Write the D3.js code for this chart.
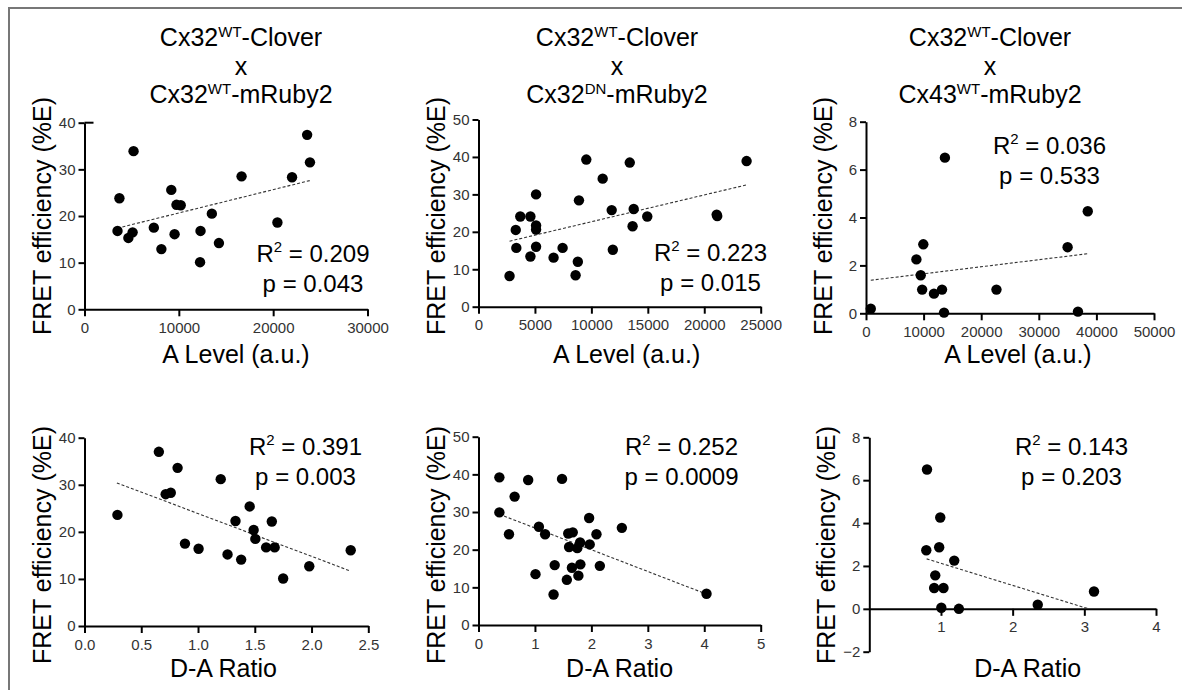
<!DOCTYPE html>
<html>
<head>
<meta charset="utf-8">
<script src="https://cdn.jsdelivr.net/npm/d3@7"></script>
<style>
  body { margin: 0; background: #fff; }
  svg { font-family: "Liberation Sans", Arial, sans-serif; }
  .axis path, .axis line { stroke: #000; stroke-width: 2; }
  .axis text { font-size: 15px; fill: #333; font-family: "Liberation Sans", Arial, sans-serif; }
</style>
</head>
<body>
<div id="graph"></div>
<script>
// titles of the three columns
const donor = "Cx32";
const donorSup = "WT";
const acceptors = [["Cx32", "WT"], ["Cx32", "DN"], ["Cx43", "WT"]];

// top row: A level (a.u.) vs FRET efficiency (%E)
const aLevel1 = [3500,3700,5200,4650,5100,7350,8150,9200,9550,9750,10200,12250,12300,13500,14250,16650,20450,22000,23600,23900];
const fret1   = [16.8,23.8,33.9,15.3,16.5,17.5,12.9,25.6,16.1,22.4,22.3,10.1,16.8,20.5,14.2,28.5,18.6,28.3,37.4,31.5];
const aLevel2 = [2750,3300,3350,3700,4600,4600,5100,5100,5100,5100,6650,7450,8600,8800,8900,9550,11000,11800,11900,13400,13650,13750,14950,21100,21150,23750];
const fret2   = [8.2,20.5,15.7,24.1,24.1,13.4,30.0,21.7,20.6,16.0,13.1,15.7,8.4,12.0,28.4,39.3,34.2,25.8,15.2,38.5,21.5,26.1,24.1,24.6,24.2,38.9];
const aLevel3 = [830,8750,9500,9750,9950,11800,13200,13700,13550,22650,35000,36800,38500];
const fret3   = [0.19,2.25,1.59,0.99,2.88,0.82,0.99,6.5,0.03,0.99,2.76,0.07,4.26];

// bottom row: D-A ratio vs FRET efficiency (%E)
const ratio4 = [0.29,0.655,0.715,0.76,0.82,0.885,1.005,1.2,1.26,1.33,1.38,1.455,1.49,1.505,1.6,1.65,1.675,1.75,1.98,2.345];
const fret4  = [23.6,37.0,28.0,28.3,33.6,17.5,16.4,31.2,15.2,22.3,14.1,25.4,20.4,18.5,16.7,22.2,16.7,10.1,12.7,16.1];
const ratio5 = [0.37,0.37,0.54,0.64,0.88,1.01,1.07,1.18,1.33,1.35,1.48,1.565,1.59,1.605,1.655,1.67,1.77,1.75,1.8,1.805,1.96,1.97,2.09,2.15,2.54,4.04];
const fret5  = [39.2,29.9,24.1,34.1,38.5,13.5,26.1,24.1,8.1,15.9,38.8,12.0,24.3,20.7,15.2,24.6,13.1,20.4,21.9,16.1,28.4,21.4,24.1,15.7,25.8,8.3];
const ratio6 = [0.805,0.99,0.795,0.975,1.185,0.92,0.905,1.035,1.005,1.25,2.35,3.135];
const fret6  = [6.5,4.26,2.73,2.87,2.25,1.56,0.97,0.97,0.05,0.0,0.19,0.81];

// regression line end points
const fit1 = [[3500,17.4],[23900,27.6]];
const fit2 = [[2750,17.5],[23700,32.5]];
const fit3 = [[830,1.38],[38600,2.49]];
const fit4 = [[0.285,30.4],[2.34,11.7]];
const fit5 = [[0.37,29.4],[4.04,8.2]];
const fit6 = [[0.8,2.33],[3.04,0.02]];

const stats = [["0.209","0.043"],["0.223","0.015"],["0.036","0.533"],["0.391","0.003"],["0.252","0.0009"],["0.143","0.203"]];

const xTicks1 = [0,10000,20000,30000];
const xTicks2 = [0,5000,10000,15000,20000,25000];
const xTicks3 = [0,10000,20000,30000,40000,50000];
const xTicks4 = [0,0.5,1,1.5,2,2.5];
const xTicks5 = [0,1,2,3,4,5];
const xTicks6 = [1,2,3,4];
const yTicks40 = [0,10,20,30,40];
const yTicks50 = [0,10,20,30,40,50];
const yTicks8 = [0,2,4,6,8];
const yTicks6 = [-2,0,2,4,6,8];

const width = 1182, height = 690;

// layout of each panel (pixels)
const panels = [
  {xs:aLevel1, ys:fret1, fit:fit1, xd:[0,30000], yd:[0,40], xr:[84.5,367.5], yr:[309.3,122.7], xt:xTicks1, yt:yTicks40, fmt:d3.format("d"), xTitle:"A Level (a.u.)", xtx:10, st:[313,261.5], topTick:true},
  {xs:aLevel2, ys:fret2, fit:fit2, xd:[0,25000], yd:[0,50], xr:[478.5,760.7], yr:[306.7,119.5], xt:xTicks2, yt:yTicks50, fmt:d3.format("d"), xTitle:"A Level (a.u.)", xtx:7, st:[710.5,261]},
  {xs:aLevel3, ys:fret3, fit:fit3, xd:[0,50000], yd:[0,8], xr:[866,1154], yr:[313.3,121.7], xt:xTicks3, yt:yTicks8, fmt:d3.format("d"), xTitle:"A Level (a.u.)", xtx:8, st:[1049.5,153.5]},
  {xs:ratio4, ys:fret4, fit:fit4, xd:[0,2.5], yd:[0,40], xr:[84.5,368.3], yr:[626,437.7], xt:xTicks4, yt:yTicks40, fmt:d3.format(".1f"), xTitle:"D-A Ratio", xtx:-3, st:[305.5,455]},
  {xs:ratio5, ys:fret5, fit:fit5, xd:[0,5], yd:[0,50], xr:[478.5,760.7], yr:[625,436.7], xt:xTicks5, yt:yTicks50, fmt:d3.format("d"), xTitle:"D-A Ratio", xtx:0, st:[681.5,454.5]},
  {xs:ratio6, ys:fret6, fit:fit6, xd:[0,4], yd:[-2,8], xr:[869.3,1156], yr:[651.7,437.3], xt:xTicks6, yt:yTicks6, fmt:d3.format("d"), xTitle:"D-A Ratio", xtx:15, st:[1071.5,454.5], xAtZero:true}
];
const titleX = [241, 617, 990];

const svg = d3.select("#graph").append("svg")
  .attr("width", width)
  .attr("height", height);

// frame lines (top and left only)
svg.append("line").attr("x1", 9).attr("x2", width).attr("y1", 8).attr("y2", 8)
  .attr("stroke", "#777").attr("stroke-width", 2);
svg.append("line").attr("x1", 9).attr("x2", 9).attr("y1", 7).attr("y2", height)
  .attr("stroke", "#777").attr("stroke-width", 2);

// column titles
acceptors.forEach((a, i) => {
  const t1 = svg.append("text").attr("x", titleX[i]).attr("y", 46)
    .attr("text-anchor", "middle").style("font-size", "25px");
  t1.append("tspan").text(donor);
  t1.append("tspan").attr("dy", -9).style("font-size", "15px").text(donorSup);
  t1.append("tspan").attr("dy", 9).text("-Clover");

  svg.append("text").attr("x", titleX[i]).attr("y", 74.5)
    .attr("text-anchor", "middle").style("font-size", "25px").text("x");

  const t3 = svg.append("text").attr("x", titleX[i]).attr("y", 103)
    .attr("text-anchor", "middle").style("font-size", "25px");
  t3.append("tspan").text(a[0]);
  t3.append("tspan").attr("dy", -9).style("font-size", "15px").text(a[1]);
  t3.append("tspan").attr("dy", 9).text("-mRuby2");
});

panels.forEach((p, i) => {
  const xScale = d3.scaleLinear().domain(p.xd).range(p.xr);
  const yScale = d3.scaleLinear().domain(p.yd).range(p.yr);
  const top = i < 3;

  const xAxis = d3.axisBottom(xScale).tickValues(p.xt).tickFormat(p.fmt)
    .tickSize(7).tickPadding(6).tickSizeOuter(0);
  const yAxis = d3.axisLeft(yScale).tickValues(p.yt)
    .tickSize(6).tickPadding(3).tickSizeOuter(0);

  const xPos = p.xAtZero ? yScale(0) : p.yr[0];
  graph = svg.append("g");

  graph.append("g")
    .attr("class", "x axis")
    .attr("transform", `translate(0, ${xPos})`)
    .call(xAxis);

  const yG = graph.append("g")
    .attr("class", "y axis")
    .attr("transform", `translate(${p.xr[0]}, 0)`)
    .call(yAxis);

  // the first panel's top tick crosses the axis
  if (p.topTick) {
    yG.append("line")
      .attr("x1", 0).attr("x2", 9)
      .attr("y1", yScale(p.yd[1])).attr("y2", yScale(p.yd[1]))
      .attr("stroke", "#000").attr("stroke-width", 2);
  }

  // regression line
  graph.append("path").datum(p.fit)
    .attr("fill", "none")
    .attr("stroke", "#333")
    .attr("stroke-width", 1.1)
    .attr("stroke-dasharray", "3,2")
    .attr("d", d3.line().x(d => xScale(d[0])).y(d => yScale(d[1])));

  graph.selectAll("circle.pt")
    .data(p.xs.map((x, k) => [x, p.ys[k]]))
    .enter().append("circle")
    .attr("class", "pt")
    .attr("cx", d => xScale(d[0]))
    .attr("cy", d => yScale(d[1]))
    .attr("r", 5.2)
    .attr("fill", "#000");

  // axis titles
  graph.append("text")
    .attr("text-anchor", "middle")
    .attr("transform", `translate(${p.xr[0] - 34}, ${top ? 216 : 545}) rotate(-90)`)
    .style("font-size", "25px")
    .text("FRET efficiency (%E)");

  graph.append("text")
    .attr("text-anchor", "middle")
    .attr("x", (p.xr[0] + p.xr[1]) / 2 + p.xtx)
    .attr("y", top ? 363 : 677)
    .style("font-size", "25px")
    .text(p.xTitle);

  // R squared and p value
  const r2 = graph.append("text").attr("text-anchor", "middle")
    .attr("x", p.st[0]).attr("y", p.st[1]).style("font-size", "24px");
  r2.append("tspan").text("R");
  r2.append("tspan").attr("dy", -10).style("font-size", "15px").text("2");
  r2.append("tspan").attr("dy", 10).text(" = " + stats[i][0]);

  graph.append("text").attr("text-anchor", "middle")
    .attr("x", p.st[0]).attr("y", p.st[1] + 30).style("font-size", "24px")
    .text("p = " + stats[i][1]);
});
</script>
</body>
</html>
